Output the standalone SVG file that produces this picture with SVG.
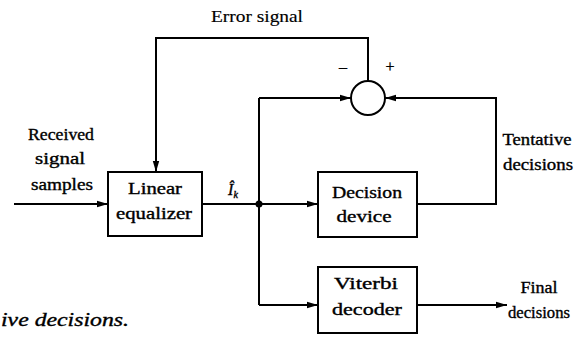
<svg xmlns="http://www.w3.org/2000/svg" width="588" height="338" viewBox="0 0 588 338">
<defs>
<marker id="ah" markerWidth="11" markerHeight="8" refX="11" refY="4" orient="auto" markerUnits="userSpaceOnUse">
<path d="M0,0.8 L11,4 L0,7.2 Z" fill="#000"/>
</marker>
<style>
text{font-family:"Liberation Serif","Times New Roman",serif;font-size:16px;fill:#000;stroke:#000;stroke-width:0.35;text-anchor:middle}
.box{fill:#fff;stroke:#000;stroke-width:2}
.ln{fill:none;stroke:#000;stroke-width:2}
.cap{font-style:italic;font-size:18px;text-anchor:start}
</style>
</defs>
<rect width="588" height="338" fill="#fff"/>
<g id="connectors">
<polyline class="ln" points="368,81 368,38 156,38 156,172" marker-end="url(#ah)"/>
<line class="ln" x1="14" y1="204" x2="108" y2="204" marker-end="url(#ah)"/>
<line class="ln" x1="202" y1="204" x2="259" y2="204"/>
<line class="ln" x1="259" y1="98" x2="259" y2="305"/>
<line class="ln" x1="259" y1="98" x2="351" y2="98" marker-end="url(#ah)"/>
<line class="ln" x1="259" y1="204" x2="318" y2="204" marker-end="url(#ah)"/>
<line class="ln" x1="259" y1="305" x2="318" y2="305" marker-end="url(#ah)"/>
<polyline class="ln" points="417,204 496,204 496,98 385,98" marker-end="url(#ah)"/>
<line class="ln" x1="417" y1="305" x2="507" y2="305" marker-end="url(#ah)"/>
<circle cx="259" cy="204" r="3.5" fill="#000"/>
</g>
<g id="error-label"><text x="257" y="22" textLength="92" lengthAdjust="spacingAndGlyphs" style="stroke-width:0.15">Error signal</text></g>
<g id="input-label">
<text x="61" y="140" textLength="66" lengthAdjust="spacingAndGlyphs">Received</text>
<text x="60" y="164" textLength="50" lengthAdjust="spacingAndGlyphs">signal</text>
<text x="62" y="190" textLength="62" lengthAdjust="spacingAndGlyphs">samples</text>
</g>
<g id="equalizer">
<rect class="box" x="108" y="172" width="94" height="64"/>
<text x="155" y="194" textLength="54" lengthAdjust="spacingAndGlyphs">Linear</text>
<text x="154" y="219" textLength="76" lengthAdjust="spacingAndGlyphs">equalizer</text>
</g>
<g id="ik-label">
<text x="233" y="195" style="font-style:italic">Î<tspan font-size="10" dy="3">k</tspan></text>
</g>
<g id="summer">
<circle cx="368" cy="98" r="17" fill="#fff" stroke="#000" stroke-width="2"/>
<text x="343" y="72">–</text>
<text x="390" y="72">+</text>
</g>
<g id="decision-device">
<rect class="box" x="318" y="172" width="99" height="65"/>
<text x="367" y="198" textLength="70" lengthAdjust="spacingAndGlyphs">Decision</text>
<text x="364" y="222" textLength="55" lengthAdjust="spacingAndGlyphs">device</text>
</g>
<g id="viterbi">
<rect class="box" x="318" y="267" width="99" height="66"/>
<text x="366" y="289" textLength="64" lengthAdjust="spacingAndGlyphs">Viterbi</text>
<text x="367" y="315" textLength="70" lengthAdjust="spacingAndGlyphs">decoder</text>
</g>
<g id="tentative-label">
<text x="537" y="145" textLength="69" lengthAdjust="spacingAndGlyphs">Tentative</text>
<text x="538" y="170" textLength="70" lengthAdjust="spacingAndGlyphs">decisions</text>
</g>
<g id="final-label">
<text x="539" y="293" textLength="37" lengthAdjust="spacingAndGlyphs">Final</text>
<text x="539" y="318" textLength="62" lengthAdjust="spacingAndGlyphs">decisions</text>
</g>
<text class="cap" x="1" y="326" textLength="128" lengthAdjust="spacingAndGlyphs">ive decisions.</text>
</svg>
